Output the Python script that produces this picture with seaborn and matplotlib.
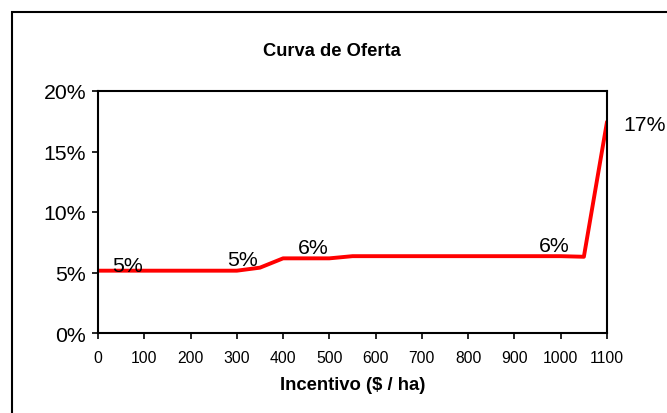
import matplotlib
matplotlib.use("Agg")
import matplotlib.pyplot as plt
import matplotlib.patches as mpatches
from matplotlib.ticker import FuncFormatter
import seaborn as sns
import pandas as pd

# Data
incentivo = [0, 50, 100, 150, 200, 250, 300, 350, 400, 450, 500, 550,
             600, 650, 700, 750, 800, 850, 900, 950, 1000, 1050, 1100]
oferta_pct = [5.15, 5.15, 5.15, 5.15, 5.15, 5.15, 5.15, 5.4, 6.17, 6.17, 6.17, 6.35,
              6.35, 6.35, 6.35, 6.35, 6.35, 6.35, 6.35, 6.35, 6.35, 6.3, 17.45]
label_x = [0, 300, 450, 1000, 1100]
label_text = ["5%", "5%", "6%", "6%", "17%"]
x_ticks = list(range(0, 1101, 100))
y_ticks = [0, 5, 10, 15, 20]
title = "Curva de Oferta"
xlabel = "Incentivo ($ / ha)"

sns.set_style("white")
plt.rcParams['font.family'] = ['Liberation Sans', 'DejaVu Sans']
plt.rcParams['text.color'] = 'black'
plt.rcParams['axes.labelcolor'] = 'black'

W, H = 667, 414
fig = plt.figure(figsize=(W / 100, H / 100), dpi=100)
ax = fig.add_axes([98 / W, 1 - 334 / H, (607 - 98) / W, (334 - 92) / H])

df = pd.DataFrame({"x": incentivo, "y": oferta_pct})
sns.lineplot(data=df, x="x", y="y", ax=ax, color="#ff0000", linewidth=2.8)

ax.set_xlim(0, 1100)
ax.set_ylim(0, 20)
ax.set_xticks(x_ticks)
ax.set_yticks(y_ticks)
ax.yaxis.set_major_formatter(FuncFormatter(lambda v, p: f"{int(v)}%"))
ax.tick_params(axis="x", labelsize=11.3, length=4.5, width=1.2, direction="out",
               pad=8, colors="black", bottom=True)
ax.tick_params(axis="y", labelsize=15.3, length=4.5, width=1.2, direction="out",
               pad=4, colors="black", left=True)
for s in ax.spines.values():
    s.set_color("black")
    s.set_linewidth(1.5)
    s.set_visible(True)
ax.set_xlabel(xlabel, fontsize=13.3, fontweight="bold", labelpad=8, color="black")
ax.set_ylabel("")
ax.grid(False)

# Data labels (offsets in points)
offsets = [(21.5, 4), (3.8, 8), (5.4, 8), (-5, 8), (27, -2.2)]
lookup = dict(zip(incentivo, oferta_pct))
for xv, txt, (dx, dy) in zip(label_x, label_text, offsets):
    ax.annotate(txt, xy=(xv, lookup[xv]), xytext=(dx, dy), textcoords="offset points",
                ha="center", va="center", fontsize=15.3, color="black",
                annotation_clip=False)

fig.text(332 / W, 1 - 52 / H, title, ha="center", va="center",
         fontsize=13.2, fontweight="bold", color="black")

# Outer chart frame
frame = mpatches.Rectangle((11.5 / W, 0 - 0.05), 1.2, 1 - 12.5 / H + 0.05,
                           transform=fig.transFigure, fill=False,
                           edgecolor="black", linewidth=1.5, clip_on=False)
fig.patches.append(frame)

fig.savefig("out.png", dpi=100)
